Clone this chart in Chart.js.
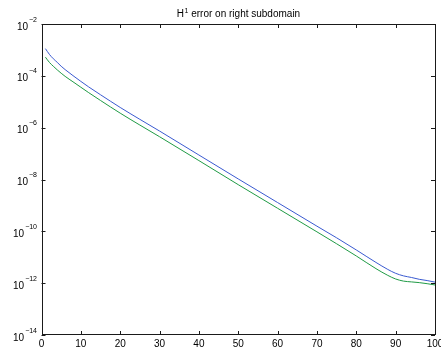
<!DOCTYPE html>
<html>
<head>
<meta charset="utf-8">
<script src="https://cdn.jsdelivr.net/npm/chart.js@4/dist/chart.umd.min.js"></script>
<style>
  html, body { margin: 0; padding: 0; background: #fff; }
  #c { display: block; }
</style>
</head>
<body>
<canvas id="c" width="441" height="351"></canvas>
<script>
// ─── Data ──────────────────────────────────────────────────────
const iterations = [1, 2, 3, 4, 5, 6, 8, 10, 12, 15, 20, 25, 30, 40, 50, 60, 70, 75, 80, 85, 88, 90, 92, 94, 96, 98, 100];
const blueError = [1.12e-3, 6.76e-4, 4.57e-4, 3.31e-4, 2.34e-4, 1.74e-4, 1.02e-4, 6.1e-5, 3.72e-5, 1.86e-5, 6.03e-6, 2.09e-6, 7.41e-7, 8.81e-8, 1.05e-8, 1.29e-9, 1.58e-10, 5.62e-11, 1.91e-11, 6.31e-12, 3.39e-12, 2.40e-12, 1.91e-12, 1.66e-12, 1.41e-12, 1.26e-12, 1.10e-12];
const greenError = [5.25e-4, 3.31e-4, 2.34e-4, 1.70e-4, 1.26e-4, 9.55e-5, 5.89e-5, 3.63e-5, 2.24e-5, 1.12e-5, 3.63e-6, 1.26e-6, 4.47e-7, 5.37e-8, 6.31e-9, 7.76e-10, 9.55e-11, 3.31e-11, 1.12e-11, 3.63e-12, 2.0e-12, 1.45e-12, 1.20e-12, 1.12e-12, 1.05e-12, 9.55e-13, 8.51e-13];
const xTicks = [0, 10, 20, 30, 40, 50, 60, 70, 80, 90, 100];
const yTicks = [1e-14, 1e-12, 1e-10, 1e-8, 1e-6, 1e-4, 1e-2];
const titleBase = "H";
const titleSup = "1";
const titleRest = " error on right subdomain";

const FONT = '"Liberation Sans", Arial, Helvetica, sans-serif';

// ─── MATLAB-ish frame: box, inward ticks, superscript labels ──
const matlabFrame = {
  id: "matlabFrame",
  afterDraw(chart) {
    const ctx = chart.ctx;
    const { left, right, top, bottom } = chart.chartArea;
    const xs = chart.scales.x, ys = chart.scales.y;
    const tl = 4;
    ctx.save();
    ctx.strokeStyle = "#1a1a1a";
    ctx.lineWidth = 1;
    ctx.strokeRect(Math.round(left) + 0.5, Math.round(top) + 0.5,
                   Math.round(right - left) - 1, Math.round(bottom - top) - 1);

    ctx.beginPath();
    xTicks.forEach(v => {
      const px = Math.round(xs.getPixelForValue(v)) + 0.5;
      ctx.moveTo(px, bottom); ctx.lineTo(px, bottom - tl);
      ctx.moveTo(px, top); ctx.lineTo(px, top + tl);
    });
    yTicks.forEach(v => {
      const py = Math.round(ys.getPixelForValue(v)) + 0.5;
      ctx.moveTo(left, py); ctx.lineTo(left + tl, py);
      ctx.moveTo(right, py); ctx.lineTo(right - tl, py);
    });
    ctx.stroke();

    ctx.fillStyle = "#000";
    // x labels
    ctx.font = "10px " + FONT;
    ctx.textAlign = "center";
    ctx.textBaseline = "alphabetic";
    xTicks.forEach(v => ctx.fillText(String(v), xs.getPixelForValue(v), 347));

    // y labels: 10 with superscript exponent
    ctx.textAlign = "left";
    yTicks.forEach(v => {
      const py = ys.getPixelForValue(v);
      const sup = "\u2212" + Math.abs(Math.round(Math.log10(v)));
      ctx.font = "7px " + FONT;
      const supW = ctx.measureText(sup).width;
      ctx.font = "10px " + FONT;
      const baseW = ctx.measureText("10").width;
      const endX = 37;
      ctx.fillText("10", endX - supW - baseW - 1, py + 5.5);
      ctx.font = "7px " + FONT;
      ctx.fillText(sup, endX - supW, py - 2.5);
    });

    // title with superscript
    ctx.font = "10px " + FONT;
    const wH = ctx.measureText(titleBase).width;
    const wR = ctx.measureText(titleRest).width;
    ctx.font = "7px " + FONT;
    const wS = ctx.measureText(titleSup).width;
    let tx = (left + right) / 2 - (wH + wS + wR) / 2;
    ctx.font = "10px " + FONT;
    ctx.fillText(titleBase, tx, 17);
    ctx.font = "7px " + FONT;
    ctx.fillText(titleSup, tx + wH + 0.5, 12.5);
    ctx.font = "10px " + FONT;
    ctx.fillText(titleRest, tx + wH + wS + 0.5, 17);
    ctx.restore();
  }
};

const toPoints = (ys) => iterations.map((x, i) => ({ x, y: ys[i] }));

new Chart(document.getElementById("c").getContext("2d"), {
  type: "line",
  data: {
    datasets: [
      {
        data: toPoints(blueError),
        borderColor: "#3a5ad0",
        borderWidth: 1,
        pointRadius: 0,
        cubicInterpolationMode: "monotone",
        fill: false,
      },
      {
        data: toPoints(greenError),
        borderColor: "#1f9a45",
        borderWidth: 1,
        pointRadius: 0,
        cubicInterpolationMode: "monotone",
        fill: false,
      },
    ],
  },
  options: {
    responsive: false,
    animation: false,
    devicePixelRatio: 1,
    layout: { padding: { top: 24, right: 6, left: 0, bottom: 0 } },
    plugins: { legend: { display: false }, tooltip: { enabled: false }, title: { display: false } },
    scales: {
      x: {
        type: "linear",
        min: 0, max: 100,
        ticks: { display: false, stepSize: 10 },
        grid: { display: false },
        border: { display: false },
        afterFit: (s) => { s.height = 16; },
      },
      y: {
        type: "logarithmic",
        min: 1e-14, max: 1e-2,
        ticks: { display: false },
        grid: { display: false },
        border: { display: false },
        afterBuildTicks: (s) => { s.ticks = yTicks.map(value => ({ value })); },
        afterFit: (s) => { s.width = 41.5; },
      },
    },
  },
  plugins: [matlabFrame],
});
</script>
</body>
</html>
